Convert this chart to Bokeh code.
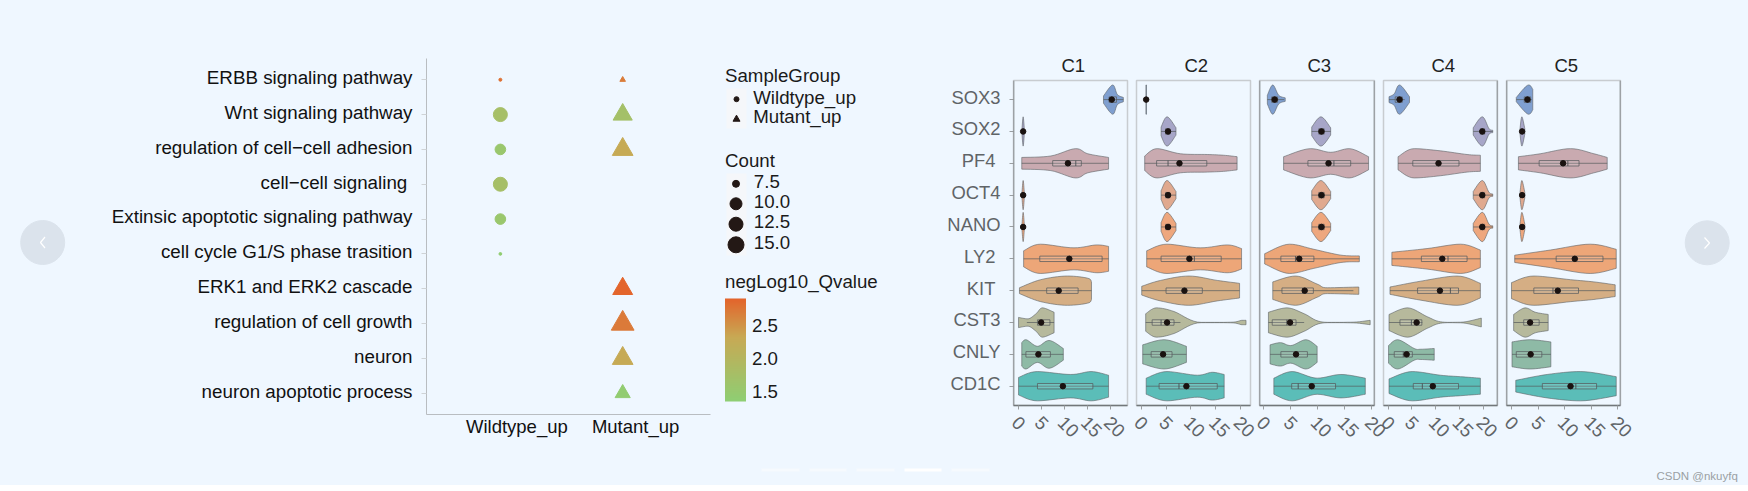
import math
import numpy as np
from bokeh.plotting import figure
from bokeh.layouts import row, column
from bokeh.models import (Range1d, FixedTicker, Span, LinearColorMapper, ColorBar, LinearAxis)
from bokeh.core.properties import value
from bokeh.embed import file_html
from bokeh.resources import INLINE

FONT = "Liberation Sans"
BG = "#eff7ff"

# ---------- enrichment dot plot ----------
terms = ["ERBB signaling pathway", "Wnt signaling pathway", "regulation of cell\u2212cell adhesion",
         "cell\u2212cell signaling\u00a0", "Extinsic apoptotic signaling pathway",
         "cell cycle G1/S phase trasition", "ERK1 and ERK2 cascade", "regulation of cell growth",
         "neuron", "neuron apoptotic process"]
groups = ["Wildtype_up", "Mutant_up"]
wild_terms = [0, 1, 2, 3, 4, 5]
wild_count = [5.5, 12.5, 9.3, 12.5, 9.3, 5.4]
wild_q = [2.8, 1.75, 1.55, 1.75, 1.55, 1.4]
mut_terms = [0, 1, 2, 6, 7, 8, 9]
mut_count = [6.0, 12.1, 13.5, 12.8, 15.4, 13.5, 9.4]
mut_q = [2.7, 1.72, 2.3, 2.9, 2.72, 2.3, 1.42]
legend_counts = [7.5, 10.0, 12.5, 15.0]
q_ticks = [1.5, 2.0, 2.5]

# ---------- violin panels ----------
genes = ["SOX3", "SOX2", "PF4\u00a0", "OCT4", "NANO", "LY2\u00a0", "KIT\u00a0", "CST3", "CNLY", "CD1C"]
gene_colors = ["#7f9fd0", "#a7a6c8", "#c9aab0", "#e0a98f", "#eea77e", "#eda678", "#d5ae84", "#b6b99c", "#8ebaa6", "#5bbdb8"]
panels = ["C1", "C2", "C3", "C4", "C5"]

thin1 = [(0.75, .2), (1.0, 1), (1.25, .2)]
C1_violin = [[(18.4, .25), (20.4, 1), (21.4, .35), (22.7, .15)], thin1,
             [(.7, .4), (7, .5), (12.4, 1), (15, .65), (19.5, .4)], thin1, thin1,
             [(1.1, .55), (4.8, 1), (12, .75), (17, .95), (19.5, .85)],
             [(.2, .2), (4.8, .75), (10.6, 1), (15, .85), (15.8, .6)],
             [(0, .35), (2, .25), (3.8, .6), (5.2, 1), (7.7, .7)],
             [(.7, .8), (1.6, 1), (4.1, .55), (6.6, .95), (9.7, .4)],
             [(0, .6), (4.1, 1), (11.3, .8), (15.7, 1), (19.5, .75)]]
C1_box = [(19.6, 20.3, 21.2), (1, 1, 1), (7.4, 12.4, 13.6), (1, 1, 1), (1, 1, 1), (4.6, 11, 18.1),
          (6.1, 8.6, 12.9), (4.1, 5.2, 6.8), (1.6, 4.1, 6.9), (4.1, 9.5, 16.1)]
C1_whisker = [(18.4, 22.7), (1, 1), (.7, 19.5), (1, 1), (1, 1), (1.1, 19.5), (.2, 15.8), (1.8, 7.7), (.7, 9.7), (0, 19.5)]
C1_mean = [20.2, 1.0, 10.7, 1.0, 1.0, 11.0, 8.7, 4.9, 4.3, 9.6]

C2_violin = [[(.95, 1), (1.05, 1)], [(4, .3), (5.2, 1), (7, .25)],
             [(.7, .5), (3.2, 1), (7.9, .65), (13.3, .6), (16.6, .55), (19.3, .45)],
             [(4, .3), (5.2, 1), (7, .25)], [(4, .3), (5.2, 1), (7, .25)],
             [(1.1, .55), (5.2, 1), (11.9, .75), (17.3, .95), (20.2, .7)],
             [(.1, .3), (3.9, .7), (9.6, 1), (15.3, .7), (19.8, .5)],
             [(.9, .6), (3.1, 1), (6.6, .75), (11.3, .03), (18, .02), (20.3, .15), (21.1, .15)],
             [(.3, .65), (4.6, 1), (9.1, .55)],
             [(1, .55), (5.2, 1), (11.3, .75), (14.3, .95), (16.7, .8)]]
C2_box = [(1, 1, 1), (4.9, 5.4, 5.8), (3.1, 5.4, 13.2), (4.9, 5.4, 5.8), (4.9, 5.4, 5.8), (4, 10.7, 16.1),
          (5, 8.8, 12.3), (2.2, 4, 6.6), (2, 4.2, 6.2), (3.6, 7.6, 15.3)]
C2_whisker = [(1, 1), (4, 7), (.7, 19.3), (4, 7), (4, 7), (1.1, 20.2), (.1, 19.8), (.9, 7.9), (.3, 9.1), (1, 16.7)]
C2_mean = [1.0, 5.4, 7.7, 5.4, 5.4, 9.7, 8.7, 5.2, 4.4, 9.1]

C3_diam = [(8.9, .3), (10.6, 1), (12.4, .25)]
C3_violin = [[(.7, .3), (1.7, 1), (2.8, .3), (4, .12)], C3_diam,
             [(3.7, .45), (8.7, 1), (12.4, .75), (15.8, 1), (19.4, .45)], C3_diam, C3_diam,
             [(.2, .35), (4.8, 1), (9.3, .65), (14.3, .25), (17.7, .2)],
             [(1.7, .6), (5.9, 1), (9.9, .45), (11.8, .2), (17.6, .25)],
             [(.9, .7), (4.3, 1), (7.5, .6), (10.6, .05), (16.1, .02), (19.7, .15)],
             [(1.2, .65), (3.1, .8), (5, .6), (7.8, 1), (9.9, .55)],
             [(1.9, .55), (5.3, 1), (9.9, .55), (14.3, .8), (18.8, .55)]]
C3_box = [(1.5, 2, 2.6), (10.2, 10.7, 11.2), (8.2, 13, 16.1), (10.2, 10.7, 11.2), (10.2, 10.7, 11.2),
          (3.2, 5.9, 9.3), (3.4, 7.2, 9.2), (1.6, 4.3, 6), (3.2, 5.9, 8.1), (5.2, 6.4, 13.3)]
C3_whisker = [(.7, 3.8), (8.9, 12.4), (3.7, 19.4), (8.9, 12.4), (8.9, 12.4), (.2, 17.7), (1.7, 16.6), (.9, 7.5), (1.2, 9.9), (1.9, 18.8)]
C3_mean = [2.05, 10.7, 12.0, 10.7, 10.7, 6.6, 7.6, 4.9, 6.0, 8.9]

C4_diam = [(17.9, .25), (19.8, 1), (21.2, .2), (22, .08)]
C4_violin = [[(.2, .2), (1.3, .4), (2.4, 1), (4.5, .2)], C4_diam,
             [(2.1, .45), (5.5, 1), (11, .85), (16.6, .6), (19.4, .55)], C4_diam, C4_diam,
             [(.8, .45), (8.2, .7), (15.2, 1), (19.4, .6)],
             [(.4, .25), (6.9, .65), (14.5, 1), (19.4, .5)],
             [(.2, .55), (4.1, 1), (8.2, .4), (11, .05), (15.2, .02), (19.6, .3)],
             [(.1, .6), (2, 1), (5.5, .4), (6.9, .35), (9.7, .4)],
             [(.2, .5), (5.1, 1), (11, .75), (15.2, .65), (19.4, .55)]]
C4_box = [(1.5, 2.4, 3), (19.4, 19.8, 20.3), (5.2, 10.7, 14.9), (19.4, 19.8, 20.3), (19.4, 19.8, 20.3),
          (7, 12.6, 16.6), (6.2, 13.1, 14.8), (2.5, 4.9, 7.1), (1.3, 3.2, 5.1), (5.3, 7.2, 14.8)]
C4_whisker = [(.2, 3.5), (17.9, 22), (2.1, 19.4), (17.9, 22), (17.9, 22), (.8, 19.4), (.4, 19.4), (.2, 7.2), (.1, 9.7), (.2, 19.4)]
C4_mean = [2.4, 19.8, 10.6, 19.8, 19.8, 11.4, 10.9, 6.0, 3.9, 9.4]

C5_thin = [(1.6, .2), (1.95, 1), (2.5, .2)]
C5_violin = [[(.9, .15), (3.2, 1), (4, .7)], C5_thin,
             [(1.3, .45), (5.4, .65), (11.1, 1), (15.5, .65), (18, .4)], C5_thin, C5_thin,
             [(.6, .25), (7.3, .6), (14.8, 1), (19.7, .65)],
             [(0, .55), (4.2, 1), (11.1, .75), (15.5, .6), (19.5, .4)],
             [(.4, .55), (2.6, 1), (4.5, .7), (6.9, .55)],
             [(.1, .85), (3.5, 1), (7.4, .85)],
             [(.8, .4), (6.7, .8), (13, 1), (19.7, .65)]]
C5_box = [(2.4, 3, 3.6), (2, 2, 2), (5.2, 10.6, 12.7), (2, 2, 2), (2, 2, 2), (8.4, 11.9, 17.2),
          (4.2, 7.8, 12.6), (2.3, 3.4, 5.2), (.9, 3.5, 5.7), (5.8, 12.1, 16)]
C5_whisker = [(.9, 3.8), (2, 2), (1.3, 18), (2, 2), (2, 2), (.6, 19.7), (0, 19.5), (.4, 6.9), (.1, 7.4), (.8, 19.7)]
C5_mean = [3.0, 2.0, 9.7, 2.0, 2.0, 11.9, 8.7, 3.5, 3.6, 11.1]

x_ticks = [0, 5, 10, 15, 20]
x_limits = [(-1.09, 23.6), (-.95, 22.0), (-.75, 20.5), (-.96, 23.0), (-.94, 20.5)]


def page_fig(x0, x1, y0=0, y1=458):
    p = figure(width=x1 - x0, height=y1 - y0, x_range=Range1d(x0, x1), y_range=Range1d(y1, y0),
               x_axis_type=None, y_axis_type=None, toolbar_location=None, output_backend="svg",
               min_border=0, background_fill_color=None, border_fill_color=None, outline_line_color=None)
    p.grid.visible = False
    return p


def size_of(c):
    return np.interp(c, [5, 7.5, 10, 12.5, 15, 18], [2, 7, 12, 14, 16, 18])


def q_palette():
    low, mid, high = np.array([143, 207, 116]), np.array([200, 170, 85]), np.array([228, 100, 44])
    out = []
    for t in np.linspace(0, 1, 256):
        c = low + (mid - low) * t / .62 if t < .62 else mid + (high - mid) * (t - .62) / .38
        out.append("#%02x%02x%02x" % tuple(int(v) for v in c))
    return out


palette = q_palette()
mapper = LinearColorMapper(palette=palette, low=1.35, high=2.91)


def q_color(q):
    i = int(round((q - 1.35) / (2.91 - 1.35) * 255))
    return palette[max(0, min(255, i))]


def rounded(prof):
    """Draw the outline through the read vertices as a rounded curve."""
    if len(prof) < 3:
        return prof
    a = np.array(prof, float)
    out = []
    n = len(a)
    for i in range(n - 1):
        p1, p2 = a[i], a[i + 1]
        m1 = (a[min(i + 1, n - 1)] - a[max(i - 1, 0)]) / 2
        m2 = (a[min(i + 2, n - 1)] - a[i]) / 2
        if 0 < i and (a[i, 1] - a[i - 1, 1]) * (a[i + 1, 1] - a[i, 1]) <= 0:
            m1 = np.array([m1[0], 0])
        if i + 2 < n and (a[i + 1, 1] - a[i, 1]) * (a[i + 2, 1] - a[i + 1, 1]) <= 0:
            m2 = np.array([m2[0], 0])
        for t in np.linspace(0, 1, 8, endpoint=False):
            h = (2 * t**3 - 3 * t**2 + 1) * p1 + (t**3 - 2 * t**2 + t) * m1 + (-2 * t**3 + 3 * t**2) * p2 + (t**3 - t**2) * m2
            out.append((float(h[0]), max(float(h[1]), .01)))
    out.append(tuple(a[-1]))
    return out


def label_axis(ticks, labels, size, color, standoff, orient=None):
    """An axis that only carries text, so its labels can sit slightly off the tick marks."""
    ax = LinearAxis(ticker=FixedTicker(ticks=ticks), major_label_overrides=dict(zip(ticks, labels)),
                    axis_line_color=None, major_tick_line_color=None, minor_tick_line_color=None,
                    major_tick_in=0, major_tick_out=0, major_label_text_font=FONT,
                    major_label_text_font_size=size, major_label_text_color=color,
                    major_label_standoff=standoff)
    if orient is not None:
        ax.major_label_orientation = orient
    return ax


def tick_only(ax, ticks, line_color, tick_color, out, width=1):
    ax.ticker = FixedTicker(ticks=ticks)
    ax.axis_line_color = line_color
    ax.axis_line_width = width
    ax.major_tick_line_color = tick_color
    ax.major_tick_out = out
    ax.major_tick_in = 0
    ax.minor_tick_line_color = None
    ax.major_label_overrides = {t: "" for t in ticks}
    ax.major_label_text_font_size = "1px"
    ax.major_label_standoff = 0


# ---------- carousel button left ----------
f0 = page_fig(0, 80)
f0.scatter([42.2], [242], size=44, color="#dbe3ec")
f0.line([44.5, 40, 44.5], [236.5, 242, 247.5], line_color="white", line_width=1.2)

# ---------- dot plot ----------
f1 = figure(width=634, height=458, x_range=Range1d(-.604, 1.718), y_range=Range1d(-.61, 9.61),
            toolbar_location=None, output_backend="svg", min_border_left=346, min_border_right=4,
            min_border_top=58, min_border_bottom=44, background_fill_color=None, border_fill_color=None,
            outline_line_color=None)
f1.grid.visible = False
f1.scatter([0] * len(wild_terms), [9 - i for i in wild_terms], marker="circle", size=size_of(wild_count).tolist(),
           color=[q_color(q) for q in wild_q])
f1.scatter([1] * len(mut_terms), [9 - i for i in mut_terms], marker="triangle", size=(1.4 * size_of(mut_count)).tolist(),
           color=[q_color(q) for q in mut_q])
tick_only(f1.yaxis[0], list(range(10)), "#b9bdc1", "#cfd3d6", 5)
f1.add_layout(label_axis([9 - i + .06 for i in range(10)], terms, "18.8px", "#111111", 9), "left")
tick_only(f1.xaxis[0], [], "#b9bdc1", None, 0)
f1.add_layout(label_axis([.135, 1.106], groups, "18.5px", "#111111", 1), "below")

# ---------- legends ----------
f2 = page_fig(714, 938)
LT = "#1a1a1a"


def ltext(x, y, s):
    f2.text([x], [y], text=[s], text_font=value(FONT), text_font_size="18.7px", text_color=LT,
            text_baseline="middle", text_align="left")


ltext(724.5, 75, "SampleGroup")
f2.quad(left=[726], right=[746], top=[88], bottom=[128], fill_color="#f5f7fa", line_color=None)
f2.quad(left=[726], right=[746], top=[173], bottom=[255], fill_color="#f5f7fa", line_color=None)
f2.scatter([736], [98.7], marker="circle", size=5, color="#231815")
f2.scatter([736], [118.7], marker="triangle", size=7, color="#231815")
ltext(752.7, 96.7, groups[0])
ltext(752.7, 116.3, groups[1])
ltext(724.5, 160, "Count")
for c, ty, ky in zip(legend_counts, [180.7, 200.7, 221.3, 241.7], [183.3, 203.3, 223.7, 244.3]):
    f2.scatter([735.5], [ky], marker="circle", size=float(size_of(c)), color="#231815")
    ltext(753.3, ty, "%.1f" % c)
ltext(724.5, 281, "negLog10_Qvalue")
cb = ColorBar(color_mapper=mapper, ticker=FixedTicker(ticks=q_ticks), location=(10.5, 57), width=21, height=103,
              major_tick_line_color=None, bar_line_color=None, border_line_color=None, background_fill_color=None,
              padding=0, margin=0, label_standoff=6, major_label_text_font=FONT, major_label_text_font_size="18.7px",
              major_label_text_color=LT, major_label_overrides={t: "%.1f" % t for t in q_ticks})
f2.add_layout(cb, "center")

# ---------- violins ----------
DARK = "#72777a"
LIGHT = "#c8ccd0"
violins = [C1_violin, C2_violin, C3_violin, C4_violin, C5_violin]
boxes = [C1_box, C2_box, C3_box, C4_box, C5_box]
whiskers = [C1_whisker, C2_whisker, C3_whisker, C4_whisker, C5_whisker]
means = [C1_mean, C2_mean, C3_mean, C4_mean, C5_mean]
left_b = [75, 5, 4, 5, 4]
frame_w = [114, 114, 115, 114, 114]
right_b = [4, 5, 4, 5, 5]
px_per_unit = [4.617, 4.97, 5.37, 4.77, 5.3]
left_dark = [True, False, True, False, True]
right_dark = [False, False, True, True, True]
EXTRA = 24
LEFT_EXTRA = [0, 12, 12, 12, 12]
vfigs = []
for k, name in enumerate(panels):
    lb = left_b[k] + LEFT_EXTRA[k]
    p = figure(width=lb + frame_w[k] + right_b[k] + EXTRA, height=458,
               x_range=Range1d(*x_limits[k]), y_range=Range1d(-.606, 9.6),
               toolbar_location=None, output_backend="svg", min_border_left=lb,
               min_border_right=right_b[k] + EXTRA, min_border_top=80, min_border_bottom=53,
               background_fill_color=None, border_fill_color=None, outline_line_color=LIGHT,
               outline_line_width=1.5, title=name)
    p.title.align = "left"
    p.title.offset = 48
    p.title.text_font = FONT
    p.title.text_font_style = "normal"
    p.title.text_font_size = "18.5px"
    p.title.text_color = "#222222"
    p.grid.visible = False
    xs, ys = [], []
    for r, prof in enumerate(violins[k]):
        yc = 9 - r
        sm = rounded(prof)
        px = [a for a, _ in sm]
        pw = [b * .46 for _, b in sm]
        xs.append(px + px[::-1])
        ys.append([yc + w for w in pw] + [yc - w for w in pw[::-1]])
    p.patches(xs, ys, fill_color=gene_colors, line_color="#5d6366", line_alpha=.6, line_width=1)
    rows = [9 - r for r in range(10)]
    p.segment([w[0] for w in whiskers[k]], rows, [w[1] for w in whiskers[k]], rows,
              line_color="#555b5e", line_alpha=.7, line_width=1)
    bx = boxes[k]
    p.quad(left=[b[0] for b in bx], right=[b[2] for b in bx], top=[y + .085 for y in rows], bottom=[y - .085 for y in rows],
           fill_color="white", fill_alpha=.12, line_color="#555b5e", line_alpha=.75, line_width=1)
    p.segment([b[1] for b in bx], [y - .085 for y in rows], [b[1] for b in bx], [y + .085 for y in rows],
              line_color="#444a4d", line_alpha=.85, line_width=1)
    p.scatter(means[k], rows, marker="circle", size=5.5, color="#1a1210")
    tick_only(p.xaxis[0], x_ticks, DARK, "#9a9ea1", 4, 1.5)
    shift = 3.5 / px_per_unit[k]
    p.add_layout(label_axis([t - shift for t in x_ticks], [str(t) for t in x_ticks], "18.5px", "#5f6467", 10,
                            orient=-math.pi / 4), "below")
    if k == 0:
        tick_only(p.yaxis[0], rows, None, "#9a9ea1", 4)
        p.add_layout(label_axis([y + .08 for y in rows], genes, "18.4px", "#5f6467", 9), "left")
    else:
        p.yaxis.visible = False
    if left_dark[k]:
        p.add_layout(Span(location=x_limits[k][0], dimension="height", line_color=DARK, line_width=1.5))
    if right_dark[k]:
        p.add_layout(Span(location=x_limits[k][1], dimension="height", line_color=DARK, line_width=1.5))
    vfigs.append(column(p, margin=(0, -EXTRA, 0, -LEFT_EXTRA[k])))

# ---------- carousel button right ----------
f9 = page_fig(1625, 1745)
f9.scatter([1706.7], [242.3], size=44, color="#dbe3ec")
f9.line([1704, 1709, 1704], [237, 242.5, 248], line_color="white", line_width=1.2)

# ---------- bottom strip ----------
fb = page_fig(0, 1745, 458, 484)
fb.segment([761, 809, 856, 904, 951], [469.5] * 5, [799, 846, 894, 941, 989], [469.5] * 5,
           line_color=["#f6fafe", "#f6fafe", "#f6fafe", "#ffffff", "#f6fafe"], line_width=3)
fb.text([1656], [475], text=["CSDN @nkuyfq"], text_font=value(FONT), text_font_size="11.5px",
        text_color="#9a9fa3", text_baseline="middle", text_align="left")

top = row([column(f) for f in (f0, f1, f2)] + vfigs + [column(f9)], spacing=0)
page = column(top, fb, spacing=0)
html = file_html(page, INLINE)
html = html.replace("</head>", "<style>html{background:linear-gradient(#eff7ff 485px,#ffffff 485px) no-repeat;}</style></head>", 1)
open("out.html", "w").write(html)
